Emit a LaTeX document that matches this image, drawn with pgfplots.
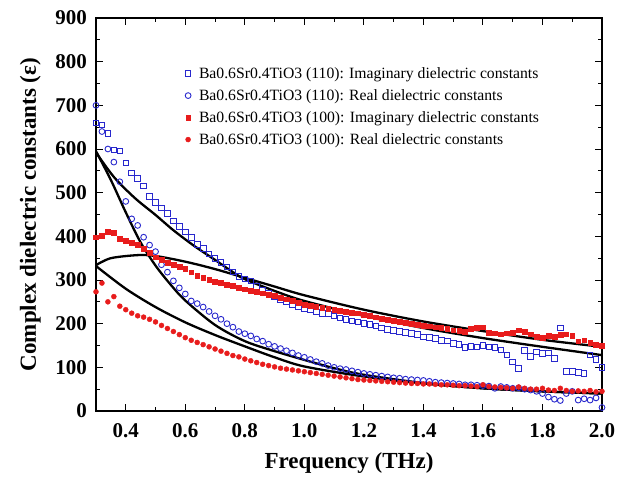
\documentclass[border=0pt]{standalone}
\usepackage{fontspec}
\setmainfont{Liberation Serif}
\usepackage{pgfplots}
\pgfplotsset{compat=1.18}

\definecolor{dblue}{RGB}{40,40,205}
\definecolor{dred}{RGB}{232,28,28}

\begin{document}
\begin{tikzpicture}
\path[use as bounding box] (0,0) rectangle (634pt,480pt);
\begin{axis}[
  at={(96pt,69pt)}, anchor=south west,
  scale only axis,
  width=506pt, height=393pt,
  xmin=0.3, xmax=2.0,
  ymin=0, ymax=900,
  xtick={0.4,0.6,...,2.01},
  ytick={0,100,...,900},
  minor x tick num=1,
  minor y tick num=1,
  tick align=inside,
  major tick length=7pt,
  minor tick length=4pt,
  axis line style={line width=1.2pt},
  every tick/.style={black, line width=1pt},
  xticklabel style={/pgf/number format/fixed, /pgf/number format/fixed zerofill, /pgf/number format/precision=1},
  yticklabel style={/pgf/number format/fixed},
  /pgf/number format/assume math mode=true,
  ticklabel style={font=\fontsize{21}{21}\selectfont\bfseries},
  every x tick label/.append style={/tikz/text height=23pt},
  every y tick label/.append style={/tikz/inner xsep=9pt},
  xlabel={Frequency (THz)},
  ylabel={Complex dielectric constants (ε)},
  label style={font=\fontsize{23}{23}\selectfont\bfseries},
  xlabel style={yshift=-8pt},
  ylabel style={yshift=2pt},
  legend style={at={(0.17,0.885)}, anchor=north west, draw=none, fill=none,
    font=\fontsize{15.7}{17}\selectfont, row sep=5.6pt,
    /tikz/every odd column/.append style={column sep=6pt}},
  legend cell align=left,
]
% Ba0.6Sr0.4TiO3 (110) imaginary
\addplot[only marks, mark=square, mark size=2.8pt, dblue, line width=0.9pt] coordinates {
(0.30,660)(0.32,655)(0.34,635)(0.36,598)(0.38,596)(0.40,568)(0.42,545)(0.44,533)(0.46,515)(0.48,492)
(0.50,478)(0.52,465)(0.54,452)(0.56,435)(0.58,423)(0.60,410)(0.62,397)(0.64,382)(0.66,372)(0.68,360)
(0.70,350)(0.72,340)(0.74,330)(0.76,318)(0.78,308)(0.80,302)(0.82,298)(0.84,285)(0.86,277)(0.88,270)
(0.90,262)(0.92,255)(0.94,250)(0.96,244)(0.98,240)(1.00,235)(1.02,232)(1.04,227)(1.06,224)(1.08,222)
(1.10,218)(1.12,213)(1.14,210)(1.16,206)(1.18,204)(1.20,200)(1.22,198)(1.24,195)(1.26,190)(1.28,187)
(1.30,184)(1.32,182)(1.34,180)(1.36,177)(1.38,176)(1.40,170)(1.42,168)(1.44,166)(1.46,162)(1.48,160)
(1.50,155)(1.52,152)(1.54,145)(1.56,148)(1.58,147)(1.60,150)(1.62,147)(1.64,146)(1.66,140)(1.68,128)
(1.70,112)(1.72,98)(1.74,138)(1.76,125)(1.78,135)(1.80,132)(1.82,133)(1.84,120)(1.86,190)(1.88,90)
(1.90,90)(1.92,88)(1.94,86)(1.96,128)(1.98,118)(2.00,100)
};
\addlegendentry{Ba0.6Sr0.4TiO3 (110): Imaginary dielectric constants}
% Ba0.6Sr0.4TiO3 (110) real
\addplot[only marks, mark=o, mark size=2.9pt, dblue, line width=0.9pt] coordinates {
(0.30,700)(0.32,640)(0.34,600)(0.36,570)(0.38,525)(0.40,480)(0.42,440)(0.44,425)(0.46,398)(0.48,380)
(0.50,365)(0.52,335)(0.54,318)(0.56,298)(0.58,282)(0.60,268)(0.62,252)(0.64,246)(0.66,238)(0.68,228)
(0.70,218)(0.72,210)(0.74,200)(0.76,192)(0.78,182)(0.80,177)(0.82,172)(0.84,165)(0.86,160)(0.88,153)
(0.90,148)(0.92,143)(0.94,138)(0.96,133)(0.98,127)(1.00,123)(1.02,118)(1.04,113)(1.06,109)(1.08,104)
(1.10,100)(1.12,97)(1.14,95)(1.16,92)(1.18,89)(1.20,86)(1.22,84)(1.24,82)(1.26,80)(1.28,78)
(1.30,76)(1.32,75)(1.34,73)(1.36,72)(1.38,71)(1.40,70)(1.42,68)(1.44,66)(1.46,65)(1.48,64)
(1.50,63)(1.52,62)(1.54,60)(1.56,60)(1.58,59)(1.60,58)(1.62,57)(1.64,52)(1.66,56)(1.68,54)
(1.70,52)(1.72,53)(1.74,50)(1.76,48)(1.78,45)(1.80,40)(1.82,32)(1.84,27)(1.86,24)(1.88,40)
(1.90,45)(1.92,25)(1.94,28)(1.96,25)(1.98,30)(2.00,8)
};
\addlegendentry{Ba0.6Sr0.4TiO3 (110): Real dielectric constants}
% Ba0.6Sr0.4TiO3 (100) imaginary
\addplot[only marks, mark=square*, mark size=2.4pt, dred] coordinates {
(0.30,398)(0.32,402)(0.34,410)(0.36,408)(0.38,395)(0.40,390)(0.42,386)(0.44,380)(0.46,372)(0.48,362)
(0.50,352)(0.52,347)(0.54,340)(0.56,335)(0.58,330)(0.60,325)(0.62,318)(0.64,310)(0.66,305)(0.68,300)
(0.70,297)(0.72,293)(0.74,290)(0.76,287)(0.78,283)(0.80,279)(0.82,276)(0.84,273)(0.86,270)(0.88,267)
(0.90,264)(0.92,260)(0.94,256)(0.96,252)(0.98,248)(1.00,244)(1.02,241)(1.04,238)(1.06,236)(1.08,234)
(1.10,232)(1.12,230)(1.14,228)(1.16,226)(1.18,224)(1.20,220)(1.22,218)(1.24,215)(1.26,212)(1.28,210)
(1.30,207)(1.32,205)(1.34,203)(1.36,200)(1.38,198)(1.40,196)(1.42,194)(1.44,192)(1.46,190)(1.48,188)
(1.50,185)(1.52,184)(1.54,182)(1.56,188)(1.58,190)(1.60,192)(1.62,180)(1.64,178)(1.66,176)(1.68,178)
(1.70,180)(1.72,185)(1.74,182)(1.76,176)(1.78,170)(1.80,168)(1.82,172)(1.84,170)(1.86,174)(1.88,176)
(1.90,172)(1.92,160)(1.94,162)(1.96,156)(1.98,152)(2.00,150)
};
\addlegendentry{Ba0.6Sr0.4TiO3 (100): Imaginary dielectric constants}
% Ba0.6Sr0.4TiO3 (100) real
\addplot[only marks, mark=*, mark size=2.5pt, dred] coordinates {
(0.30,273)(0.32,293)(0.34,250)(0.36,262)(0.38,240)(0.40,232)(0.42,224)(0.44,218)(0.46,215)(0.48,210)
(0.50,204)(0.52,196)(0.54,189)(0.56,182)(0.58,175)(0.60,168)(0.62,162)(0.64,157)(0.66,152)(0.68,147)
(0.70,142)(0.72,137)(0.74,132)(0.76,127)(0.78,124)(0.80,119)(0.82,115)(0.84,111)(0.86,107)(0.88,104)
(0.90,101)(0.92,98)(0.94,96)(0.96,94)(0.98,92)(1.00,90)(1.02,88)(1.04,86)(1.06,84)(1.08,82)
(1.10,80)(1.12,78)(1.14,76)(1.16,74)(1.18,72)(1.20,71)(1.22,70)(1.24,69)(1.26,68)(1.28,67)
(1.30,66)(1.32,65)(1.34,64)(1.36,63)(1.38,63)(1.40,62)(1.42,62)(1.44,61)(1.46,60)(1.48,60)
(1.50,59)(1.52,58)(1.54,58)(1.56,57)(1.58,56)(1.60,60)(1.62,56)(1.64,55)(1.66,54)(1.68,53)
(1.70,52)(1.72,55)(1.74,52)(1.76,50)(1.78,50)(1.80,52)(1.82,48)(1.84,47)(1.86,52)(1.88,47)
(1.90,45)(1.92,46)(1.94,45)(1.96,47)(1.98,44)(2.00,45)
};
\addlegendentry{Ba0.6Sr0.4TiO3 (100): Real dielectric constants}
% fitted curves
\addplot[black, line width=2.3pt, smooth, forget plot] coordinates {
(0.30,592)(0.36,536)(0.43,488)(0.50,449)(0.56,414)(0.63,378)(0.70,346)(0.76,318)(0.80,302)
(0.90,275)(1.00,252)(1.20,218)(1.40,190)(1.60,167)(1.80,147)(2.00,128)};
\addplot[black, line width=2.3pt, smooth, forget plot] coordinates {
(0.30,595)(0.35,529)(0.40,455)(0.45,386)(0.50,333)(0.55,290)(0.60,253)(0.70,197)(0.80,160)
(0.90,137)(1.00,117)(1.10,98)(1.20,83)(1.40,64)(1.60,52)(1.80,45)(2.00,40)};
\addplot[black, line width=2.3pt, smooth, forget plot] coordinates {
(0.30,334)(0.35,350)(0.44,357)(0.50,355)(0.60,342)(0.70,325)(0.80,305)(0.90,285)(1.00,265)
(1.20,232)(1.40,205)(1.60,183)(1.80,163)(2.00,147)};
\addplot[black, line width=2.3pt, smooth, forget plot] coordinates {
(0.30,332)(0.40,280)(0.50,238)(0.60,203)(0.70,174)(0.80,148)(0.90,123)(1.00,102)(1.20,79)
(1.40,63)(1.60,52)(1.80,45)(2.00,40)};
\end{axis}
\end{tikzpicture}
\end{document}
